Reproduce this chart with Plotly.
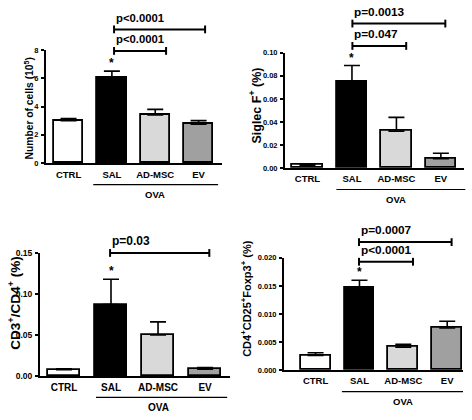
import plotly.graph_objects as go

W, H = 472, 420
FONT = "Liberation Sans, Arial, sans-serif"

# ---------------- data ----------------
groups = ["CTRL", "SAL", "AD-MSC", "EV"]
bar_colors = ["#ffffff", "#000000", "#d9d9d9", "#a0a0a0"]

cells_mean = [3.0, 6.05, 3.4, 2.75]
cells_err = [0.15, 0.45, 0.4, 0.25]
siglec_mean = [0.0025, 0.075, 0.032, 0.008]
siglec_err = [0.0007, 0.014, 0.012, 0.0048]
cd3_mean = [0.0075, 0.087, 0.050, 0.0083]
cd3_err = [0.0012, 0.031, 0.016, 0.002]
treg_mean = [0.0026, 0.0147, 0.0041, 0.0075]
treg_err = [0.0005, 0.0013, 0.0005, 0.0012]

cells_ticks = [0, 2, 4, 6, 8]
cells_tick_text = ["0", "2", "4", "6", "8"]
siglec_ticks = [0.0, 0.02, 0.04, 0.06, 0.08, 0.10]
siglec_tick_text = ["0.00", "0.02", "0.04", "0.06", "0.08", "0.10"]
cd3_ticks = [0.0, 0.05, 0.10, 0.15]
cd3_tick_text = ["0.00", "0.05", "0.10", "0.15"]
treg_ticks = [0.0, 0.005, 0.010, 0.015, 0.020]
treg_tick_text = ["0.000", "0.005", "0.010", "0.015", "0.020"]

cells_pvals = ["p<0.0001", "p<0.0001"]
siglec_pvals = ["p=0.047", "p=0.0013"]
cd3_pvals = ["p=0.03"]
treg_pvals = ["p<0.0001", "p=0.0007"]

star_group = "SAL"
ova_label = "OVA"

# ---------------- layout config (pixel geometry) ----------------
panels = [
    dict(mean=cells_mean, err=cells_err, ticks=cells_ticks, ticktext=cells_tick_text,
         pvals=cells_pvals, title="Number of cells (10<sup>5</sup>)",
         xpx=(46, 222), ypx=(162, 46), xr=(-0.52, 3.54),
         brackets=[(1.05, 2.25, 7.93), (1.05, 3.15, 9.45)],
         ova=(0.57, 3.45), title_x=28, title_y=106, title_size=10.3,
         tick_size=7.5, cat_size=9.5, p_size=11.3),
    dict(mean=siglec_mean, err=siglec_err, ticks=siglec_ticks, ticktext=siglec_tick_text,
         pvals=siglec_pvals, title="Siglec F<sup>+</sup> (%)",
         xpx=(285, 464), ypx=(167, 49), xr=(-0.506, 3.52),
         brackets=[(1.01, 2.22, 0.106), (1.01, 3.10, 0.1254)],
         ova=(0.65, 3.55), title_x=255, title_y=103, title_size=12.5,
         tick_size=7.5, cat_size=9.5, p_size=11.8),
    dict(mean=cd3_mean, err=cd3_err, ticks=cd3_ticks, ticktext=cd3_tick_text,
         pvals=cd3_pvals, title="CD3<sup>+</sup>/CD4<sup>+</sup> (%)",
         xpx=(40, 230), ypx=(380, 254), xr=(-0.51, 3.53),
         brackets=[(0.98, 3.09, 0.15)],
         ova=(0.68, 3.47), title_x=14, title_y=305, title_size=13.5,
         tick_size=8.5, cat_size=10, p_size=12),
    dict(mean=treg_mean, err=treg_err, ticks=treg_ticks, ticktext=treg_tick_text,
         pvals=treg_pvals, title="CD4<sup>+</sup>CD25<sup>+</sup>Foxp3<sup>+</sup> (%)",
         xpx=(284, 463), ypx=(374, 259), xr=(-0.72, 3.36),
         brackets=[(0.99, 2.22, 0.0193), (0.99, 3.10, 0.0228)],
         ova=(0.6, 3.36), title_x=246, title_y=301, title_size=11,
         tick_size=7.5, cat_size=9.5, p_size=11.8),
]


def px_x(p):
    return p / W


def px_y(p):
    return 1 - p / H


fig = go.Figure()
shapes = []
annotations = []
xpos = list(range(len(groups)))

for i, P in enumerate(panels, start=1):
    sfx = "" if i == 1 else str(i)
    xa, ya = "x" + sfx, "y" + sfx
    yr = (P["ticks"][0], P["ticks"][-1])
    x0d, x1d = px_x(P["xpx"][0]), px_x(P["xpx"][1])
    y0d, y1d = px_y(P["ypx"][0]), px_y(P["ypx"][1])

    def dx(v, P=P, x0d=x0d, x1d=x1d):
        return x0d + (v - P["xr"][0]) / (P["xr"][1] - P["xr"][0]) * (x1d - x0d)

    def dy(v, yr=yr, y0d=y0d, y1d=y1d):
        return y0d + (v - yr[0]) / (yr[1] - yr[0]) * (y1d - y0d)

    fig.add_trace(go.Bar(
        x=xpos, y=P["mean"], xaxis=xa, yaxis=ya, width=0.68,
        marker=dict(color=bar_colors, line=dict(color="black", width=1.8)),
        error_y=dict(type="data", array=P["err"], arrayminus=[0] * len(groups),
                     symmetric=False, color="black", thickness=1.6, width=8),
        showlegend=False, hoverinfo="skip",
    ))

    fig.layout["xaxis" + sfx] = dict(
        domain=[x0d, x1d], anchor=ya, range=list(P["xr"]),
        tickvals=xpos, ticktext=groups, ticks="", showline=True,
        linecolor="black", linewidth=2, showgrid=False, zeroline=False,
        tickfont=dict(family=FONT, size=P["cat_size"], color="black", weight="bold"),
        ticklabelstandoff=1, fixedrange=True,
    )
    fig.layout["yaxis" + sfx] = dict(
        domain=[y0d, y1d], anchor=xa, range=list(yr),
        tickvals=P["ticks"], ticktext=P["ticktext"], ticks="outside",
        ticklen=3, tickwidth=1.5, tickcolor="black", showline=True,
        linecolor="black", linewidth=2, showgrid=False, zeroline=False,
        tickfont=dict(family=FONT, size=P["tick_size"], color="black", weight="bold"),
        ticklabelstandoff=1, fixedrange=True,
    )

    # y-axis title
    annotations.append(dict(
        text=P["title"], x=px_x(P["title_x"]), y=px_y(P["title_y"]),
        xref="paper", yref="paper", showarrow=False, textangle=-90,
        xanchor="center", yanchor="middle",
        font=dict(family=FONT, size=P["title_size"], color="black", weight="bold"),
    ))

    # significance star above SAL
    si = groups.index(star_group)
    annotations.append(dict(
        text="*", x=si, y=P["mean"][si] + P["err"][si], xref=xa, yref=ya,
        showarrow=False, yanchor="bottom", xanchor="center", yshift=-1,
        font=dict(family=FONT, size=12, color="black", weight="bold"),
    ))

    # brackets with p-values
    for (bx0, bx1, by), lab in zip(P["brackets"], P["pvals"]):
        X0, X1, Y = dx(bx0), dx(bx1), dy(by)
        cap = 4 / H
        shapes.append(dict(type="line", xref="paper", yref="paper",
                           x0=X0, x1=X1, y0=Y, y1=Y,
                           line=dict(color="black", width=2)))
        for X in (X0, X1):
            shapes.append(dict(type="line", xref="paper", yref="paper",
                               x0=X, x1=X, y0=Y - cap, y1=Y + cap,
                               line=dict(color="black", width=2)))
        annotations.append(dict(
            text=lab, x=X0, y=Y + 12 / H, xref="paper", yref="paper",
            showarrow=False, xanchor="left", yanchor="middle", xshift=0,
            font=dict(family=FONT, size=P["p_size"], color="black", weight="bold"),
        ))

    # OVA group line and label
    axis_px = P["ypx"][0]
    ly = px_y(axis_px + 22)
    shapes.append(dict(type="line", xref="paper", yref="paper",
                       x0=dx(P["ova"][0]), x1=dx(P["ova"][1]), y0=ly, y1=ly,
                       line=dict(color="black", width=1.2)))
    annotations.append(dict(
        text=ova_label, x=dx(2.0), y=px_y(axis_px + 32), xref="paper", yref="paper",
        showarrow=False, xanchor="center", yanchor="middle",
        font=dict(family=FONT, size=P["cat_size"], color="black", weight="bold"),
    ))

fig.update_layout(
    width=W, height=H, margin=dict(l=0, r=0, t=0, b=0),
    paper_bgcolor="white", plot_bgcolor="white",
    shapes=shapes, annotations=annotations, bargap=0,
    font=dict(family=FONT, color="black"),
)

fig.write_html("out.html", config={"displayModeBar": False},
               post_script="document.body.style.margin='0';document.body.style.overflow='hidden';")
